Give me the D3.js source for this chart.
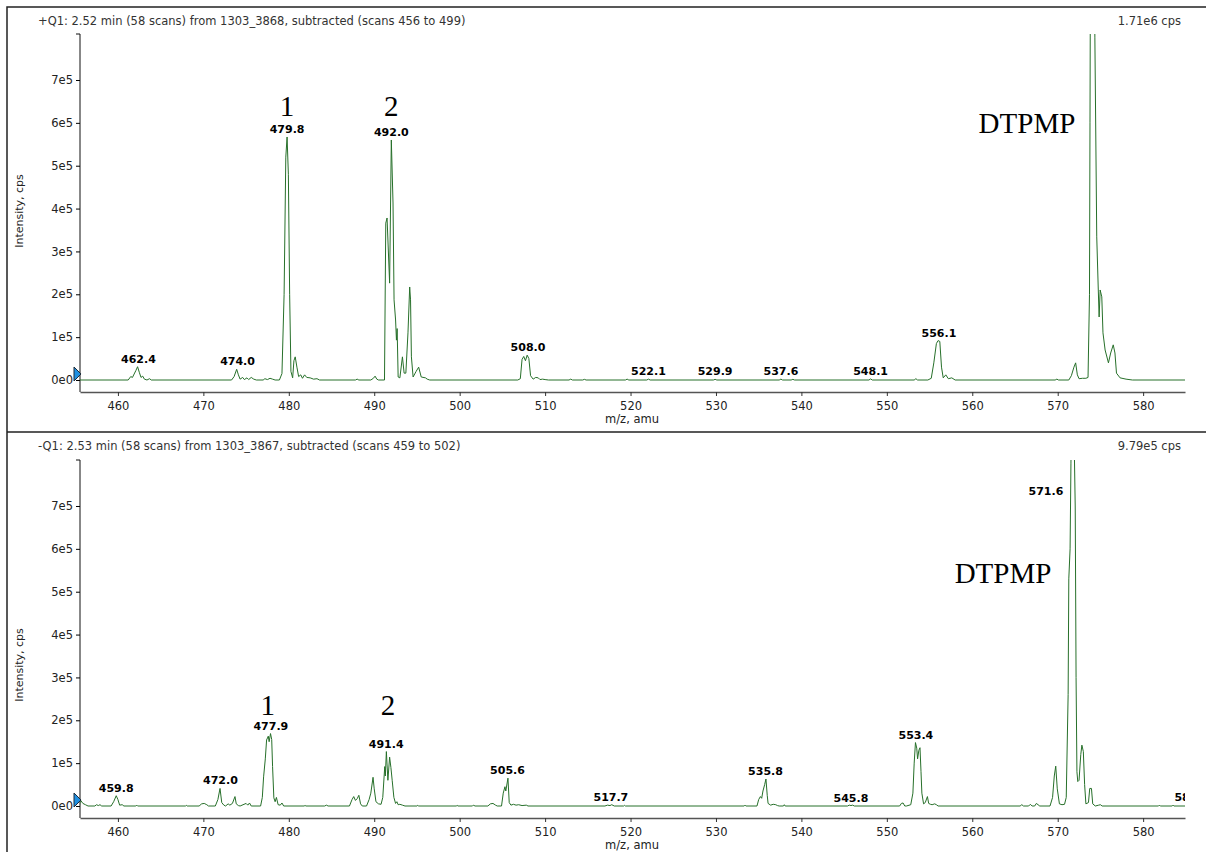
<!DOCTYPE html>
<html>
<head>
<meta charset="utf-8">
<script src="https://cdn.jsdelivr.net/npm/d3@7"></script>
<style>
  body { margin: 0; background: #fff; }
  text { font-family: "DejaVu Sans", Verdana, sans-serif; }
</style>
</head>
<body>
<svg id="chart" width="1206" height="852"></svg>
<script>
// m/z axis and intensity axis ticks
const xTicks = [460, 470, 480, 490, 500, 510, 520, 530, 540, 550, 560, 570, 580];
const yTicks = [0, 100000, 200000, 300000, 400000, 500000, 600000, 700000];

const posTitle = "+Q1: 2.52 min (58 scans) from 1303_3868, subtracted (scans 456 to 499)";
const negTitle = "-Q1: 2.53 min (58 scans) from 1303_3867, subtracted (scans 459 to 502)";
const posMax = "1.71e6 cps";
const negMax = "9.79e5 cps";

// +Q1 profile, [m/z, cps]
const posSpectrum = [
  [455.5,0],
  [461.2,0],[461.5,8000],[461.7,6000],[461.9,14000],[462.1,22000],[462.3,31000],[462.5,18000],[462.7,6000],[462.9,9000],[463.1,2000],[463.4,0],[463.7,3000],[463.9,0],
  [473.3,0],[473.6,8000],[473.9,25000],[474.1,12000],[474.3,2000],[474.6,6000],[474.8,1000],[475.1,5000],[475.3,1000],[475.6,6000],[475.9,2000],[476.2,0],
  [477.0,0],[477.2,3000],[477.5,1000],[477.8,4000],[478.1,2000],[478.4,0],
  [478.9,0],[479.2,15000],[479.45,200000],[479.65,520000],[479.8,567000],[479.95,480000],[480.1,200000],[480.25,20000],[480.45,5000],[480.6,45000],[480.75,54000],[480.95,30000],[481.15,8000],[481.4,12000],[481.6,4000],[481.85,12000],[482.1,6000],[482.5,5000],[482.9,2000],[483.3,3000],[483.6,0],
  [487.8,0],[488.0,2000],[488.2,0],
  [489.6,0],[489.9,4000],[490.1,9000],[490.3,2000],[490.5,0],
  [491.2,0],[491.35,366000],[491.5,378000],[491.8,226000],[492.0,560000],[492.2,413000],[492.32,187000],[492.5,140000],[492.6,93000],[492.68,120000],[492.8,7000],[493.0,5000],[493.3,54000],[493.5,16000],[493.7,16000],[493.95,110000],[494.15,217000],[494.25,187000],[494.35,54000],[494.55,7000],[494.9,20000],[495.2,30000],[495.5,7000],[496.0,5000],[496.2,2000],[496.5,0],
  [506.8,0],[507.1,3000],[507.3,48000],[507.5,55000],[507.7,45000],[507.9,58000],[508.1,50000],[508.3,10000],[508.6,2000],[508.9,6000],[509.2,5000],[509.4,1000],[509.7,2000],[510.0,1000],[510.4,0],
  [512.8,0],[513.0,2000],[513.2,0],[514.4,0],[514.6,1500],[514.8,0],[519.4,0],[519.6,2000],[519.8,0],
  [521.9,0],[522.1,2000],[522.3,0],[529.7,0],[529.9,1500],[530.1,0],[537.4,0],[537.6,2000],[537.8,0],[538.8,0],[539.0,1500],[539.2,0],[547.9,0],[548.1,2500],[548.3,0],
  [553.2,0],[553.4,3000],[553.6,0],
  [554.8,0],[555.2,4000],[555.5,40000],[555.8,85000],[556.0,92000],[556.2,90000],[556.4,30000],[556.6,5000],[556.9,12000],[557.2,3000],[557.6,5000],[558.0,0],
  [569.7,0],[569.9,2000],[570.1,0],
  [571.3,0],[571.6,10000],[571.9,30000],[572.1,40000],[572.3,12000],[572.5,3000],[572.9,4000],[573.3,4000],[573.55,6000],[573.72,200000],[573.78,600000],[573.9,1500000],[574.05,1710000],[574.2,1300000],[574.35,800000],[574.57,334000],[574.75,210000],[574.85,147000],[574.97,210000],[575.16,194000],[575.3,110000],[575.55,70000],[575.94,40000],[576.2,63000],[576.5,82000],[576.7,63000],[576.88,16000],[577.3,5000],[578.0,2000],[578.75,0],
  [585,0]
];

// -Q1 profile, [m/z, cps]
const negSpectrum = [
  [455.5,0],[455.6,14000],[455.9,6000],[456.2,3000],[456.5,0],[457.3,0],[457.5,3000],[457.7,1000],[457.9,3000],[458.1,0],
  [459.2,0],[459.5,10000],[459.8,24000],[460.0,15000],[460.2,2000],[460.5,3000],[460.7,0],[462.1,0],[462.2,2000],[462.3,0],
  [467.9,0],[468.0,1500],[468.1,0],
  [469.5,0],[469.8,5000],[470.1,6000],[470.4,3000],[470.6,0],
  [471.4,0],[471.7,15000],[471.95,41000],[472.15,8000],[472.4,2000],[472.6,0],[472.9,5000],[473.1,2000],[473.4,6000],[473.7,22000],[473.85,5000],[474.1,1000],[474.3,0],[475.0,6000],[475.2,2000],[475.4,7000],[475.6,0],
  [476.7,0],[476.9,20000],[477.05,68000],[477.25,110000],[477.4,154000],[477.6,163000],[477.7,150000],[477.86,169000],[478.0,155000],[478.1,92000],[478.25,19000],[478.4,10000],[478.55,20000],[478.75,3000],[479.0,2000],[479.2,7000],[479.4,0],
  [481.8,0],[481.9,1500],[482.0,0],[484.2,0],[484.4,2000],[484.6,0],
  [487.1,0],[487.4,15000],[487.6,22000],[487.8,13000],[488.0,17000],[488.2,25000],[488.4,5000],[488.6,0],
  [489.1,0],[489.4,15000],[489.6,30000],[489.86,67000],[490.0,40000],[490.2,10000],[490.5,5000],[490.8,4000],[491.0,20000],[491.23,92000],[491.3,70000],[491.42,127000],[491.6,60000],[491.8,114000],[491.95,90000],[492.1,60000],[492.3,20000],[492.5,6000],[492.65,10000],[492.8,3000],[493.0,4000],[493.3,2000],[493.6,0],
  [495.0,0],[495.1,1500],[495.2,0],[499.6,0],[499.7,1500],[499.8,0],[501.5,0],[501.6,2000],[501.8,0],
  [503.3,0],[503.6,5000],[503.9,6000],[504.2,2000],[504.4,0],
  [504.9,0],[505.1,30000],[505.3,45000],[505.4,35000],[505.65,65000],[505.8,8000],[506.0,2000],[506.3,4000],[506.6,2000],[506.9,3000],[507.3,1000],[507.8,2000],[508.0,0],
  [517.0,0],[517.3,2000],[517.6,1000],[517.8,3000],[518.1,0],[519.2,0],[519.3,1500],[519.4,0],
  [533.3,0],[533.4,2000],[533.5,0],
  [534.8,0],[535.0,15000],[535.2,22000],[535.35,18000],[535.5,35000],[535.7,50000],[535.85,63000],[536.0,25000],[536.1,6000],[536.4,2000],[536.7,4000],[537.0,3000],[537.2,1000],[537.4,0],[537.9,0],[538.0,3000],[538.1,0],
  [545.4,0],[545.6,2000],[545.8,1000],[546.0,2000],[546.2,0],
  [551.5,0],[551.7,6000],[551.9,7000],[552.1,0],[552.3,0],[552.8,3000],[553.05,30000],[553.2,100000],[553.35,148000],[553.5,135000],[553.6,110000],[553.75,130000],[553.88,136000],[554.0,80000],[554.1,30000],[554.3,5000],[554.5,8000],[554.75,22000],[554.9,6000],[555.1,4000],[555.3,3000],[555.6,5000],[555.8,3000],[556.0,0],
  [565.6,0],[565.8,3000],[566.0,0],[566.6,0],[566.8,4000],[567.0,0],[567.3,0],[567.5,6000],[567.7,3000],[567.9,0],
  [569.1,0],[569.4,20000],[569.6,70000],[569.77,93000],[569.95,40000],[570.2,5000],[570.5,3000],[570.8,4000],[571.0,20000],[571.22,260000],[571.3,530000],[571.45,600000],[571.55,800000],[571.7,979000],[571.85,950000],[572.05,700000],[572.15,300000],[572.25,80000],[572.35,57000],[572.5,60000],[572.7,120000],[572.83,142000],[573.0,127000],[573.15,50000],[573.3,5000],[573.6,8000],[573.75,41000],[573.95,41000],[574.1,5000],[574.4,0],[574.8,2000],[575.0,3000],[575.2,0],
  [581.8,0],[581.9,2000],[582.0,0],[583.4,0],[583.5,2000],[583.6,0],
  [585,0]
];

// peak labels: [m/z, local max cps]
const posLabels = [[462.4,31000],[474.0,25000],[479.8,567000],[492.0,560000],[508.0,58000],[522.1,2000],[529.9,2000],[537.6,2000],[548.1,2000],[556.1,92000]];
const negLabels = [[459.8,24000],[472.0,41000],[477.9,169000],[491.4,127000],[505.6,65000],[517.7,3000],[535.8,63000],[545.8,0],[553.4,148000],[571.6,979000],[585.7,2000]];

// hand-written annotations: [text, m/z, cps]
const posNotes = [["1",479.8,615000],["2",492.0,615000],["DTPMP",566.4,576000]];
const negNotes = [["1",477.55,213000],["2",491.6,213000],["DTPMP",563.6,520000]];

const svg = d3.select("#chart");

const x = d3.scaleLinear().domain([455.56, 584.9]).range([80, 1185]);
const fmtY = (v) => (v === 0 ? "0e0" : v / 1e5 + "e5");

// outer frame of the two panes
svg.append("path")
  .attr("d", "M7,852 V7 H1206 M7,432 H1206")
  .attr("fill", "none")
  .attr("stroke", "#222")
  .attr("stroke-width", 1.5);

function drawPanel(p) {
  const y = d3.scaleLinear().domain([-28000, 807300]).range([p.bottom, p.top]);
  const g = svg.append("g");

  svg.append("clipPath").attr("id", "clip-" + p.name)
    .append("rect")
    .attr("x", 80).attr("y", p.top)
    .attr("width", 1105).attr("height", p.bottom - p.top);

  g.append("text")
    .attr("x", 38).attr("y", p.frameTop + 17.5)
    .style("font-size", "11.5px").attr("fill", "#333")
    .text(p.title);
  g.append("text")
    .attr("x", 1181).attr("y", p.frameTop + 17.5)
    .attr("text-anchor", "end")
    .style("font-size", "11.5px").attr("fill", "#333")
    .text(p.maxText);

  // x axis
  const gx = g.append("g")
    .attr("transform", "translate(0," + p.bottom + ")")
    .call(d3.axisBottom(x).tickValues(xTicks).tickSize(4).tickSizeOuter(0).tickPadding(6));
  gx.select(".domain").attr("stroke", "#555").attr("stroke-width", 1.5);
  gx.selectAll(".tick line").attr("stroke", "#333");
  gx.selectAll("text").style("font-size", "11.5px").style("font-family", "DejaVu Sans").attr("fill", "#222");

  g.append("text")
    .attr("x", 632).attr("y", p.bottom + 31)
    .attr("text-anchor", "middle")
    .style("font-size", "11.5px").attr("fill", "#222")
    .text("m/z, amu");

  // y axis
  const gy = g.append("g")
    .attr("transform", "translate(80,0)")
    .call(d3.axisLeft(y).tickValues(yTicks).tickSize(4).tickSizeOuter(4).tickPadding(3).tickFormat(fmtY));
  gy.select(".domain").attr("d", "M-4," + p.top + "H0V" + p.bottom).attr("stroke", "#111");
  gy.selectAll("text").style("font-size", "11.5px").style("font-family", "DejaVu Sans").attr("fill", "#222");

  g.append("text")
    .attr("transform", "translate(23," + p.ylabelY + ") rotate(-90)")
    .attr("text-anchor", "middle")
    .style("font-size", "11px").attr("fill", "#222")
    .text("Intensity, cps");

  // spectrum trace
  const line = d3.line().x((d) => x(d[0])).y((d) => y(d[1]));
  g.append("path")
    .datum(p.spectrum)
    .attr("clip-path", "url(#clip-" + p.name + ")")
    .attr("d", line)
    .attr("fill", "none")
    .attr("stroke", "#27702a")
    .attr("stroke-width", 1);

  // peak labels (off-scale peaks get their label beside the peak)
  const lg = g.append("g").attr("clip-path", "url(#clip-" + p.name + ")");
  const offScale = (d) => y(d[1]) - 4 < p.top + 10;
  lg.selectAll("text")
    .data(p.labels)
    .enter()
    .append("text")
    .attr("x", (d) => (offScale(d) ? x(d[0]) - 8 : x(d[0])))
    .attr("y", (d) => (offScale(d) ? p.top + 35 : y(d[1]) - 4))
    .attr("text-anchor", (d) => (offScale(d) ? "end" : "middle"))
    .style("font-size", "11px")
    .style("font-weight", "bold")
    .attr("fill", "#000")
    .text((d) => d[0].toFixed(1));

  // compound annotations
  g.selectAll(".note")
    .data(p.notes)
    .enter()
    .append("text")
    .attr("class", "note")
    .attr("x", (d) => x(d[1]))
    .attr("y", (d) => y(d[2]))
    .attr("text-anchor", "middle")
    .style("font-family", "'Liberation Serif', 'Times New Roman', serif")
    .style("font-size", "29px")
    .attr("fill", "#000")
    .text((d) => d[0]);

  // threshold marker at the left edge
  const y0 = y(0);
  g.append("path")
    .attr("d", "M74," + (y0 - 13) + "L81," + (y0 - 6) + "L74," + (y0 + 1) + "Z")
    .attr("fill", "#1f8fe0")
    .attr("stroke", "#1b2a3a")
    .attr("stroke-width", 1);
}

drawPanel({ name: "pos", frameTop: 7, top: 34, bottom: 392, ylabelY: 211,
  title: posTitle, maxText: posMax, spectrum: posSpectrum, labels: posLabels, notes: posNotes });
drawPanel({ name: "neg", frameTop: 432, top: 460, bottom: 818, ylabelY: 665,
  title: negTitle, maxText: negMax, spectrum: negSpectrum, labels: negLabels, notes: negNotes });
</script>
</body>
</html>
